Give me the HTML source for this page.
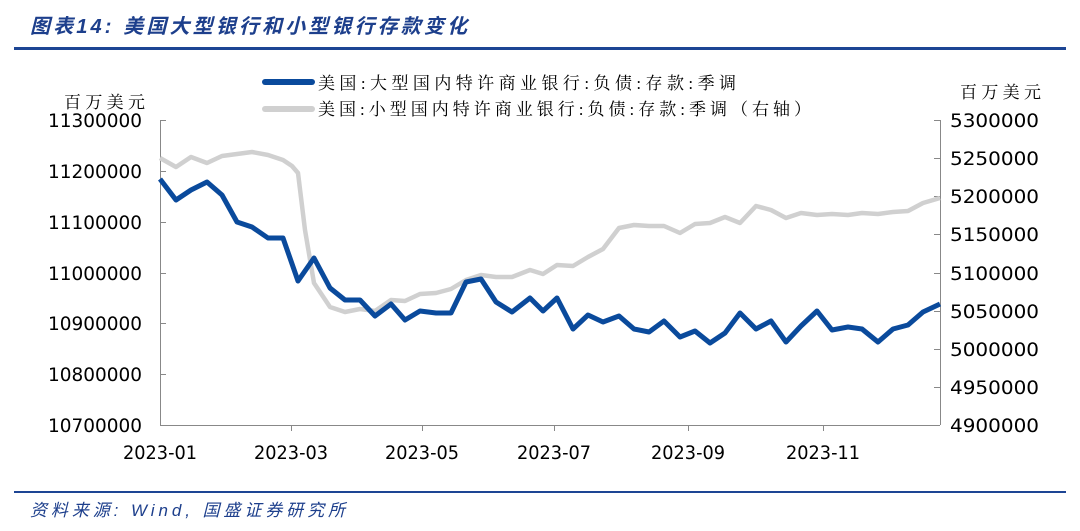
<!DOCTYPE html>
<html><head><meta charset="utf-8"><style>
body{margin:0;background:#fff;width:1080px;height:531px;overflow:hidden;font-family:"Liberation Sans","Noto Sans CJK SC",sans-serif}
</style></head><body>
<svg width="1080" height="531" xmlns="http://www.w3.org/2000/svg" style="position:absolute;left:0;top:0">
<text x="30" y="33" font-size="20" font-style="italic" font-weight="bold" fill="#1d3f8c" textLength="437" lengthAdjust="spacing" font-family="'Liberation Sans','Noto Sans CJK SC',sans-serif">图表14:  美国大型银行和小型银行存款变化</text>
<rect x="14" y="47" width="1052" height="3" fill="#1d4594"/>
<rect x="14" y="491" width="1052" height="2" fill="#1d4594"/>
<text x="30" y="516" font-size="17" font-style="italic" fill="#1d3f8c" textLength="315" lengthAdjust="spacing" font-family="'Liberation Sans','Noto Sans CJK SC',sans-serif">资料来源: Wind, 国盛证券研究所</text>
<g font-family="'Liberation Serif','Noto Serif CJK SC',serif" fill="#000">
<line x1="265" y1="82" x2="312" y2="82" stroke="#0a4a9c" stroke-width="6" stroke-linecap="round"/>
<text x="318" y="89" font-size="17" textLength="418" lengthAdjust="spacing">美国:大型国内特许商业银行:负债:存款:季调</text>
<line x1="265" y1="109" x2="312" y2="109" stroke="#d0d0d0" stroke-width="6" stroke-linecap="round"/>
<text x="318" y="115" font-size="17" textLength="493" lengthAdjust="spacing">美国:小型国内特许商业银行:负债:存款:季调（右轴）</text>
<text x="64" y="108" font-size="17" textLength="81" lengthAdjust="spacing">百万美元</text>
<text x="960" y="98" font-size="17" textLength="81" lengthAdjust="spacing">百万美元</text>
</g>
<g stroke="#888" stroke-width="1" fill="none">
<line x1="160.5" y1="120" x2="160.5" y2="425"/>
<line x1="940.5" y1="120" x2="940.5" y2="425"/>
<line x1="160" y1="425.5" x2="940" y2="425.5"/>
</g>
<g stroke="#888" stroke-width="1">
<line x1="160" y1="120.5" x2="166" y2="120.5"/><line x1="160" y1="171.5" x2="166" y2="171.5"/><line x1="160" y1="222.5" x2="166" y2="222.5"/><line x1="160" y1="273.5" x2="166" y2="273.5"/><line x1="160" y1="323.5" x2="166" y2="323.5"/><line x1="160" y1="374.5" x2="166" y2="374.5"/>
<line x1="934" y1="120.5" x2="940" y2="120.5"/><line x1="934" y1="158.5" x2="940" y2="158.5"/><line x1="934" y1="196.5" x2="940" y2="196.5"/><line x1="934" y1="234.5" x2="940" y2="234.5"/><line x1="934" y1="273.5" x2="940" y2="273.5"/><line x1="934" y1="311.5" x2="940" y2="311.5"/><line x1="934" y1="349.5" x2="940" y2="349.5"/><line x1="934" y1="387.5" x2="940" y2="387.5"/>
<line x1="291.5" y1="425" x2="291.5" y2="431"/><line x1="422.5" y1="425" x2="422.5" y2="431"/><line x1="554.5" y1="425" x2="554.5" y2="431"/><line x1="688.5" y1="425" x2="688.5" y2="431"/><line x1="823.5" y1="425" x2="823.5" y2="431"/>
</g>
<g font-size="19" fill="#000" font-family="'DejaVu Sans','Liberation Sans',sans-serif">
<g>
<text x="48" y="127" textLength="94" lengthAdjust="spacingAndGlyphs">11300000</text><text x="48" y="178" textLength="94" lengthAdjust="spacingAndGlyphs">11200000</text><text x="48" y="229" textLength="94" lengthAdjust="spacingAndGlyphs">11100000</text><text x="48" y="280" textLength="94" lengthAdjust="spacingAndGlyphs">11000000</text><text x="48" y="330" textLength="94" lengthAdjust="spacingAndGlyphs">10900000</text><text x="48" y="381" textLength="94" lengthAdjust="spacingAndGlyphs">10800000</text><text x="48" y="432" textLength="94" lengthAdjust="spacingAndGlyphs">10700000</text>
</g>
<text x="950" y="127" textLength="89" lengthAdjust="spacingAndGlyphs">5300000</text><text x="950" y="165" textLength="89" lengthAdjust="spacingAndGlyphs">5250000</text><text x="950" y="203" textLength="89" lengthAdjust="spacingAndGlyphs">5200000</text><text x="950" y="241" textLength="89" lengthAdjust="spacingAndGlyphs">5150000</text><text x="950" y="280" textLength="89" lengthAdjust="spacingAndGlyphs">5100000</text><text x="950" y="318" textLength="89" lengthAdjust="spacingAndGlyphs">5050000</text><text x="950" y="356" textLength="89" lengthAdjust="spacingAndGlyphs">5000000</text><text x="950" y="394" textLength="89" lengthAdjust="spacingAndGlyphs">4950000</text><text x="950" y="432" textLength="89" lengthAdjust="spacingAndGlyphs">4900000</text>
<text x="123" y="459" textLength="74" lengthAdjust="spacingAndGlyphs">2023-01</text><text x="254" y="459" textLength="74" lengthAdjust="spacingAndGlyphs">2023-03</text><text x="385" y="459" textLength="74" lengthAdjust="spacingAndGlyphs">2023-05</text><text x="517" y="459" textLength="74" lengthAdjust="spacingAndGlyphs">2023-07</text><text x="651" y="459" textLength="74" lengthAdjust="spacingAndGlyphs">2023-09</text><text x="786" y="459" textLength="74" lengthAdjust="spacingAndGlyphs">2023-11</text>
</g>
<polyline fill="none" stroke="#d0d0d0" stroke-width="4.5" stroke-linejoin="round" points="160,158 176,167 191,157 207,163 222,156 237,154 252,152 268,155 283,160 292,166 298,173 305,230 314,283 330,307 345,312 360,309 375,311 391,300 405,301 420,294 436,293 451,289 466,280 481,275 496,277 512,277 530,270 543,274 557,265 573,266 588,257 603,249 619,228 634,225 649,226 664,226 680,233 695,224 710,223 725,217 740,223 756,206 771,210 786,218 801,213 817,215 832,214 848,215 862,213 878,214 893,212 908,211 923,203 940,198"/>
<polyline fill="none" stroke="#0a4a9c" stroke-width="5" stroke-linejoin="round" points="160,179 176,200 191,190 207,182 222,195 237,222 252,227 268,238 283,238 298,281 314,258 330,288 345,300 360,300 375,316 391,304 405,320 420,311 436,313 451,313 466,282 481,279 496,302 512,312 530,298 543,311 557,298 573,329 588,315 603,322 619,316 634,329 649,332 664,321 680,337 695,331 710,343 725,333 740,313 756,329 771,321 786,342 801,326 817,311 832,330 848,327 862,329 878,342 893,329 908,325 923,312 940,304"/>
</svg>
</body></html>
